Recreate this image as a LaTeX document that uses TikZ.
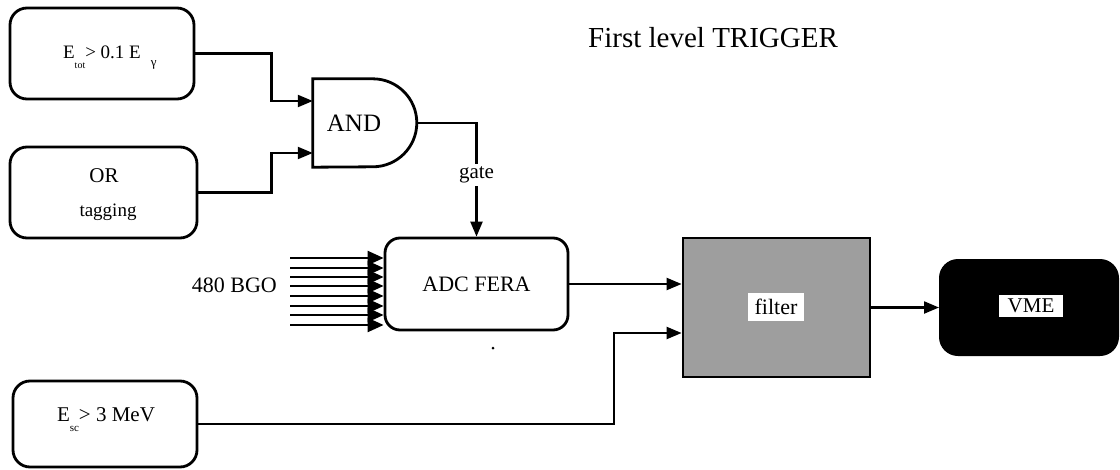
\documentclass[tikz,border=0pt]{standalone}
\usepackage{fontspec}
\setmainfont{Liberation Serif}
\usetikzlibrary{arrows.meta}
\newcommand{\setfs}[1]{\fontsize{#1}{#1}\selectfont}
\begin{document}
\begin{tikzpicture}[x=1pt,y=-1pt,
  blk/.style={draw, line width=2.8pt, rounded corners=17pt, minimum width=184pt, minimum height=91pt, inner sep=0pt},
  arr/.style={line width=2.2pt, -{Triangle[length=15pt,width=12pt]}},
  bgoarr/.style={line width=2.2pt, -{Triangle[length=16pt,width=14pt]}},
  lbl/.style={inner sep=0pt}
  ]
\useasboundingbox (0,0) rectangle (1120,469);

% left boxes
\node[blk] (b1) at (102,53.5) {};
\node[lbl] (b1lbl) at (102,58) {\setfs{19}E\raisebox{-10pt}{\setfs{10}tot}> 0.1 E\rlap{\hspace{10pt}\raisebox{-8pt}{\setfs{13}γ}}};

\node[blk, minimum width=187pt] (b2) at (103.5,192.5) {};
\node[lbl] (orlbl) at (104,176) {\setfs{21}OR};
\node[lbl] (taglbl) at (108,212) {\setfs{19}tagging};

\node[blk, minimum height=86pt] (b3) at (105,424) {};
\node[lbl] (b3lbl) at (106,420) {\setfs{21}E\raisebox{-10pt}{\setfs{11}sc}> 3 MeV};

% AND gate
\node[minimum width=104pt, minimum height=88pt, inner sep=0pt] (and) at (365,123) {};
\draw[line width=2.8pt] (and.north west) -- ++(60,0) arc[start angle=90, end angle=-90, radius=44pt] -- (and.south west) -- cycle;
\node[lbl] (andlbl) at (354,123) {\setfs{25}AND};

% ADC
\node[blk, rounded corners=15pt, minimum width=183pt, minimum height=92pt] (adc) at (476.5,284) {\setfs{22}ADC FERA};

% filter
\node[draw, line width=2.8pt, fill=black!38, minimum width=187pt, minimum height=139pt] (filter) at (776.5,307.5) {};
\node[fill=white, inner xsep=7pt, inner ysep=6pt] (filterlbl) at (776,307) {\setfs{22}filter};

% VME
\node[draw, line width=2pt, fill=black, rounded corners=18pt, minimum width=178pt, minimum height=95pt] (vme) at (1029,307.5) {};
\node[fill=white, inner xsep=9pt, inner ysep=4pt] (vmelbl) at (1031,306) {\setfs{21}VME};

% title
\node[anchor=base west, inner sep=0pt] (title) at (588,47) {\setfs{29}First level TRIGGER};

% 480 BGO
\node[anchor=east, inner sep=0pt] (bgo) at (277,285) {\setfs{22}480 BGO};
\foreach \yy [count=\i] in {258,268,277,286,296,306,315,325} {
  \coordinate (g\i) at (290,\yy);
  \draw[bgoarr] (g\i) -- (adc.west |- g\i);
}

% connectors
\draw[arr] (b1.east) -- ++(76,0) |- ([yshift=22pt]and.west);
\draw[arr] (b2.east) -- ++(73,0) |- ([yshift=-30pt]and.west);
\draw[arr] (and.east) -| node[pos=0.73, fill=white, inner sep=3pt] (gatelbl) {\setfs{21}gate} (adc.north);
\draw[arr] (adc.east) -- (filter.west |- adc.east);
\draw[arr] (b3.east) -| ([xshift=-68pt,yshift=-25.5pt]filter.west) -- ([yshift=-25.5pt]filter.west);
\draw[arr] (filter.east) -- (vme.west);

\fill (493,348) circle (1.5pt);
\end{tikzpicture}
\end{document}
